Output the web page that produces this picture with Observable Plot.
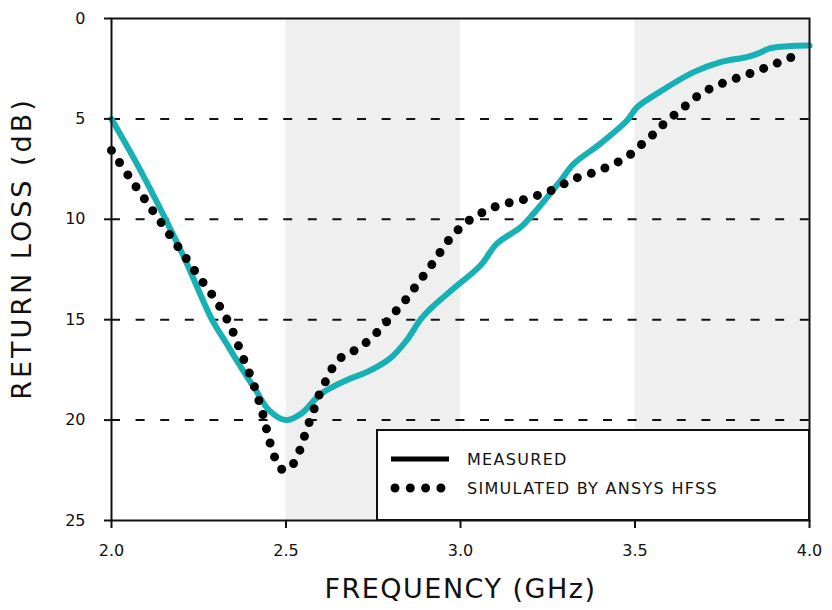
<!DOCTYPE html>
<html><head><meta charset="utf-8">
<script src="https://cdn.jsdelivr.net/npm/d3@7"></script>
<script src="https://cdn.jsdelivr.net/npm/@observablehq/plot@0.6"></script>
<style>
body{margin:0;background:#fff;}
#chart{position:relative;width:832px;height:610px;}
</style>
</head><body><div id="chart"></div>
<script>
// Measured return loss (teal solid line)
const measuredFreq = [2.00,2.078,2.155,2.212,2.288,2.33,2.365,2.413,2.451,2.50,2.542,2.60,2.675,2.733,2.80,2.847,2.885,2.914,2.98,3.057,3.105,3.172,3.21,3.287,3.325,3.40,3.477,3.506,3.573,3.668,3.745,3.82,3.85,3.888,3.936,4.00];
const measuredLoss = [5.0,7.4,10.0,12.05,15.0,16.2,17.2,18.5,19.5,20.0,19.7,18.7,18.0,17.6,16.9,16.0,15.0,14.45,13.45,12.3,11.2,10.4,9.7,8.07,7.23,6.24,5.08,4.42,3.63,2.67,2.17,1.92,1.76,1.48,1.38,1.35];
// Simulated by ANSYS HFSS (black dotted line)
const simFreq = [2.00,2.05,2.10,2.15,2.20,2.25,2.30,2.342,2.374,2.406,2.432,2.453,2.47,2.486,2.505,2.519,2.538,2.552,2.566,2.581,2.596,2.614,2.634,2.663,2.702,2.737,2.768,2.796,2.825,2.852,2.878,2.904,2.929,2.954,2.98,3.012,3.05,3.088,3.129,3.17,3.213,3.253,3.293,3.331,3.372,3.413,3.454,3.489,3.521,3.554,3.585,3.619,3.652,3.686,3.724,3.764,3.805,3.845,3.886,3.926,3.967];
const simLoss = [6.57,7.87,9.12,10.36,11.6,12.85,14.06,15.37,16.77,18.16,19.6,21.05,21.95,22.43,22.45,22.23,21.57,20.85,20.13,19.42,18.70,18.05,17.38,16.81,16.48,16.03,15.5,14.95,14.37,13.81,13.18,12.58,11.98,11.32,10.76,10.22,9.78,9.45,9.22,9.07,8.85,8.62,8.27,7.95,7.73,7.45,7.12,6.74,6.24,5.74,5.21,4.71,4.25,3.78,3.42,3.14,2.89,2.64,2.37,2.09,1.79];
// Shaded frequency bands
const shadeStart = [2.5, 3.5];
const shadeEnd = [3.0, 4.0];
// Grid and ticks
const gridLoss = [5, 10, 15, 20];
const xTicks = [2.0, 2.5, 3.0, 3.5, 4.0];
const yTicks = [0, 5, 10, 15, 20, 25];
const xTitle = "FREQUENCY (GHz)";
const yTitle = "RETURN LOSS (dB)";
const legendLabels = ["MEASURED", "SIMULATED BY ANSYS HFSS"];

const measured = measuredFreq.map((f, i) => ({f, v: measuredLoss[i]}));
const simulated = simFreq.map((f, i) => ({f, v: simLoss[i]}));
const bands = shadeStart.map((s, i) => ({s, e: shadeEnd[i]}));

const TEAL = "#17b1b5";
const INK = "#111";

const chart = Plot.plot({
  width: 832, height: 610,
  marginLeft: 111, marginRight: 23, marginTop: 18, marginBottom: 90,
  style: {fontFamily: "DejaVu Sans", fontSize: "16px", color: INK, background: "white", overflow: "visible"},
  x: {domain: [2, 4]},
  y: {domain: [0, 25], reverse: true},
  marks: [
    Plot.rect(bands, {x1: "s", x2: "e", y1: () => 0, y2: () => 25, fill: "#efefef"}),
    Plot.ruleY(gridLoss, {stroke: INK, strokeWidth: 2, strokeDasharray: "9,15.6"}),
    Plot.line(measured, {x: "f", y: "v", stroke: TEAL, strokeWidth: 6, curve: "catmull-rom"}),
    Plot.line(simulated, {x: "f", y: "v", stroke: "#000", strokeWidth: 9, strokeDasharray: "0,14.6", strokeLinecap: "round", curve: "catmull-rom"}),
    Plot.frame({stroke: INK, strokeWidth: 2}),
    Plot.axisX({ticks: xTicks, tickSize: 8, tickPadding: 16, tickFormat: d3.format(".1f"), strokeWidth: 2, label: null}),
    Plot.axisY({ticks: yTicks, tickSize: 7, tickPadding: 19, tickFormat: d3.format("d"), strokeWidth: 2, label: null}),
    Plot.text([xTitle], {text: d => d, frameAnchor: "bottom", dy: 77, fontSize: 27, fill: INK}),
    Plot.text([yTitle], {text: d => d, frameAnchor: "left", textAnchor: "middle", dx: -89, dy: -21, rotate: -90, fontSize: 27, fill: INK})
  ]
});
document.getElementById("chart").appendChild(chart);

const svg = d3.select(chart);
svg.selectAll("text").filter(function(){ return this.textContent === xTitle; })
  .style("letter-spacing", "1.5px");
svg.selectAll("text").filter(function(){ return this.textContent === yTitle; })
  .style("letter-spacing", "3px");

// Legend box
const lg = svg.append("g");
lg.append("rect").attr("x", 377).attr("y", 430).attr("width", 432).attr("height", 90)
  .attr("fill", "white").attr("stroke", INK).attr("stroke-width", 2);
lg.append("line").attr("x1", 391).attr("x2", 449).attr("y1", 459).attr("y2", 459)
  .attr("stroke", "#000").attr("stroke-width", 5);
lg.append("line").attr("x1", 395).attr("x2", 441).attr("y1", 488).attr("y2", 488)
  .attr("stroke", "#000").attr("stroke-width", 9).attr("stroke-linecap", "round").attr("stroke-dasharray", "0,15.3");
legendLabels.forEach((t, i) => {
  lg.append("text").attr("x", 467).attr("y", 459 + i * 29).attr("dy", "0.36em")
    .attr("text-anchor", "start").attr("font-size", 16).attr("fill", INK)
    .style("letter-spacing", "1.3px").text(t);
});
</script>
</body></html>
